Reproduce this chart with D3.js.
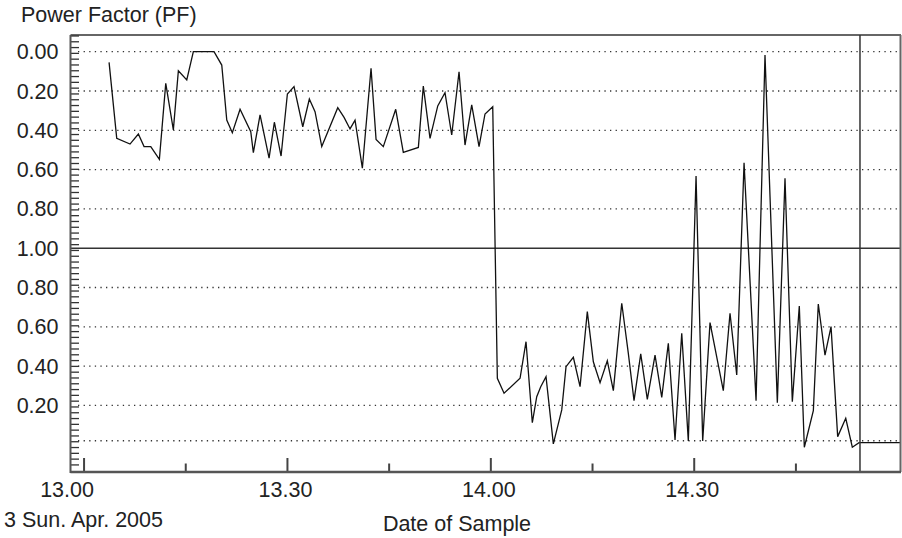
<!DOCTYPE html>
<html>
<head>
<meta charset="utf-8">
<script src="https://cdn.jsdelivr.net/npm/d3@7"></script>
<style>
  html, body { margin: 0; padding: 0; background: #fff; }
  svg { display: block; }
  text { font-family: "Liberation Sans", Arial, Helvetica, sans-serif; fill: #222; }
</style>
</head>
<body>
<svg id="chart" width="902" height="538"></svg>
<script>
// ---- DATA ----
// Sample times, minutes after 13:00 on 3 Apr 2005
const sampleMinutes = [
  3.69, 4.82, 6.78, 8.01, 8.85, 9.84, 11.11, 12.05, 13.17, 13.91,
  15.15, 16.12, 19.17, 20.31, 21.05, 21.87, 23.01, 24.59, 24.97, 25.96,
  27.29, 28.07, 29.06, 29.99, 30.97, 32.26, 33.23, 34.07, 35.06, 37.42,
  38.35, 39.23, 39.97, 41.05, 42.33, 43.07, 44.14, 45.97, 47.09, 49.31,
  50.04, 51.03, 52.17, 53.24, 54.23, 55.31, 56.19, 57.18, 58.26, 59.14,
  60.28, 60.96, 61.95, 64.31, 65.19, 66.12, 66.77, 67.36, 68.14, 69.22,
  70.46, 71.09, 72.17, 73.16, 74.23, 75.12, 76.11, 77.18, 78.07, 79.31,
  80.28, 81.12, 82.11, 83.08, 84.22, 85.21, 86.18, 87.17, 88.16, 89.13,
  90.27, 91.25, 92.33, 94.29, 95.28, 96.27, 97.35, 99.12, 100.44, 102.26,
  103.39, 104.47, 105.50, 106.24, 107.57, 108.30, 109.29, 110.18, 111.16, 112.35,
  113.32, 114.31, 120.40
];
// Position on the PF scale: 0..1 = PF 0.00 -> 1.00 (upper half), 1..2 = PF 1.00 -> 0.00 (lower half)
const pfScaleValues = [
  0.054, 0.441, 0.470, 0.419, 0.483, 0.483, 0.548, 0.161, 0.398, 0.097,
  0.144, 0.000, 0.000, 0.068, 0.348, 0.412, 0.293, 0.407, 0.514, 0.322,
  0.542, 0.359, 0.531, 0.215, 0.178, 0.382, 0.241, 0.305, 0.483, 0.285,
  0.334, 0.393, 0.348, 0.593, 0.084, 0.446, 0.483, 0.293, 0.512, 0.487,
  0.175, 0.441, 0.276, 0.209, 0.424, 0.102, 0.475, 0.271, 0.483, 0.317,
  0.280, 1.662, 1.738, 1.662, 1.476, 1.888, 1.756, 1.705, 1.654, 1.996,
  1.823, 1.603, 1.555, 1.705, 1.323, 1.578, 1.684, 1.573, 1.725, 1.280,
  1.535, 1.776, 1.538, 1.769, 1.544, 1.759, 1.484, 1.976, 1.433, 1.981,
  0.633, 1.981, 1.379, 1.725, 1.331, 1.645, 0.565, 1.776, 0.017, 1.786,
  0.644, 1.781, 1.294, 2.013, 1.827, 1.284, 1.544, 1.399, 1.959, 1.866,
  2.013, 1.990, 1.990
];
const yTickValues = [0, 0.2, 0.4, 0.6, 0.8, 1.0, 1.2, 1.4, 1.6, 1.8];
const yTickLabels = ["0.00", "0.20", "0.40", "0.60", "0.80", "1.00", "0.80", "0.60", "0.40", "0.20"];
const extraGridValues = [1.98];
const cursorMinutes = [114.45];
const xLabels = ["13.00", "13.30", "14.00", "14.30"];
const yTitle = "Power Factor (PF)";
const xTitle = "Date of Sample";
const dateLabel = "3 Sun. Apr. 2005";

// ---- LAYOUT ----
const svg = d3.select("#chart");
const L = 70.5, R = 901, T = 35, B = 472;
const base = new Date(2005, 3, 3, 13, 0, 0);
const toDate = m => new Date(base.getTime() + m * 60000);

const x = d3.scaleTime()
  .domain([toDate(-2), toDate(120.5)])
  .range([L, R]);
const y = d3.scaleLinear()
  .domain([-0.085, 2.139])
  .range([T, B]);

const FONT = 21.5;

// dotted grid lines
const grid = svg.append("g");
yTickValues.concat(extraGridValues).forEach(v => {
  if (v === 1.0) return;
  grid.append("line")
    .attr("x1", 78).attr("x2", R)
    .attr("y1", y(v)).attr("y2", y(v))
    .attr("stroke", "#333").attr("stroke-width", 1.3)
    .attr("stroke-dasharray", "1.3,4.3");
});
// solid 1.00 line
svg.append("line")
  .attr("x1", L).attr("x2", R)
  .attr("y1", y(1.0)).attr("y2", y(1.0))
  .attr("stroke", "#333").attr("stroke-width", 1.5);

// minor ticks on y axis
const minorY = d3.range(-0.08, 2.13, 0.0295);
svg.append("g").selectAll("line").data(minorY).join("line")
  .attr("x1", L).attr("x2", L + 8.5)
  .attr("y1", d => y(d)).attr("y2", d => y(d))
  .attr("stroke", "#333").attr("stroke-width", 1.3);

// y labels
svg.append("g").selectAll("text").data(yTickValues).join("text")
  .attr("x", 58.5)
  .attr("y", d => y(d))
  .attr("dy", "0.35em")
  .attr("text-anchor", "end")
  .attr("font-size", FONT)
  .text((d, i) => yTickLabels[i]);

// x axis ticks
const majorX = d3.timeMinute.every(30).range(toDate(0), toDate(120));
const minorX = d3.timeMinute.every(15).range(toDate(0), toDate(120)).filter(d => d.getMinutes() % 30 !== 0);
svg.append("g").selectAll("line").data(majorX).join("line")
  .attr("x1", d => x(d)).attr("x2", d => x(d))
  .attr("y1", B).attr("y2", B - 14)
  .attr("stroke", "#444").attr("stroke-width", 2);
svg.append("g").selectAll("line").data(minorX).join("line")
  .attr("x1", d => x(d)).attr("x2", d => x(d))
  .attr("y1", B).attr("y2", B - 8.5)
  .attr("stroke", "#444").attr("stroke-width", 2);
svg.append("g").selectAll("text").data(majorX).join("text")
  .attr("x", (d, i) => x(d) + (i === 0 ? -17 : -2))
  .attr("y", 497)
  .attr("text-anchor", "middle")
  .attr("font-size", FONT)
  .text((d, i) => xLabels[i]);

// data line
const pts = sampleMinutes.map((m, i) => ({ t: toDate(m), v: pfScaleValues[i] }));
svg.append("path")
  .datum(pts)
  .attr("fill", "none")
  .attr("stroke", "#111")
  .attr("stroke-width", 1.3)
  .attr("stroke-linejoin", "miter")
  .attr("d", d3.line().x(d => x(d.t)).y(d => y(d.v)));

// cursor line
svg.append("g").selectAll("line").data(cursorMinutes).join("line")
  .attr("x1", d => x(toDate(d))).attr("x2", d => x(toDate(d)))
  .attr("y1", T).attr("y2", B)
  .attr("stroke", "#333").attr("stroke-width", 1.5);

// frame
svg.append("line").attr("x1", L).attr("x2", R).attr("y1", T).attr("y2", T)
  .attr("stroke", "#333").attr("stroke-width", 1.5);
svg.append("line").attr("x1", R - 0.5).attr("x2", R - 0.5).attr("y1", T).attr("y2", B)
  .attr("stroke", "#666").attr("stroke-width", 2);
svg.append("line").attr("x1", L).attr("x2", L).attr("y1", T).attr("y2", B + 1)
  .attr("stroke", "#555").attr("stroke-width", 2);
svg.append("line").attr("x1", L).attr("x2", R).attr("y1", B).attr("y2", B)
  .attr("stroke", "#555").attr("stroke-width", 2.5);

// titles
svg.append("text").attr("x", 21).attr("y", 22)
  .attr("font-size", FONT).text(yTitle);
svg.append("text").attr("x", 457).attr("y", 531)
  .attr("text-anchor", "middle").attr("font-size", FONT).text(xTitle);
svg.append("text").attr("x", 4).attr("y", 527)
  .attr("font-size", FONT).text(dateLabel);
</script>
</body>
</html>
